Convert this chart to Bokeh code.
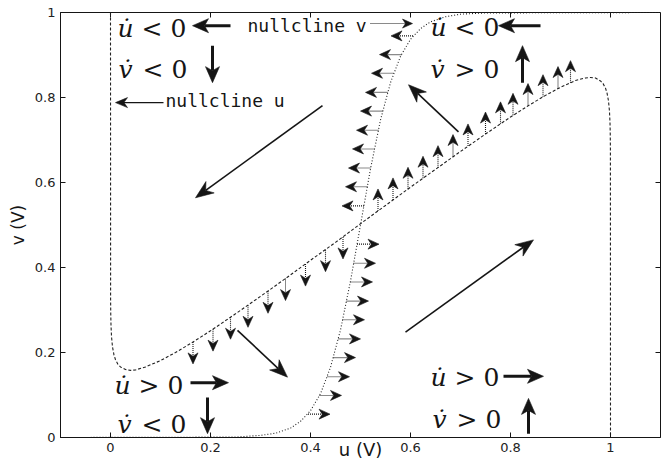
import numpy as np
from bokeh.plotting import figure
from bokeh.models import Range1d, FixedTicker, Label
from bokeh.embed import file_html
from bokeh.resources import INLINE

# ---- axis ticks ----
x_ticks = [0, 0.2, 0.4, 0.6, 0.8, 1]
x_tick_labels = ["0", "0.2", "0.4", "0.6", "0.8", "1"]
y_ticks = [0, 0.2, 0.4, 0.6, 0.8, 1]
y_tick_labels = ["0", "0.2", "0.4", "0.6", "0.8", "1"]

# ---- nullcline of u (N-shaped, dashed) ----
ncu_u = [0.0, 0.0002, 0.0005, 0.001, 0.002, 0.004, 0.007, 0.01, 0.015, 0.02,
         0.03, 0.04, 0.05, 0.07, 0.1, 0.13, 0.16, 0.2, 0.25, 0.3,
         0.35, 0.4, 0.45, 0.5, 0.55, 0.6, 0.65, 0.7, 0.75, 0.8,
         0.84, 0.87, 0.9, 0.93, 0.95, 0.96, 0.97, 0.98, 0.985, 0.99,
         0.993, 0.996, 0.998, 0.999, 0.9995, 0.9998, 1.0]
ncu_v = [1.0, 0.326, 0.291, 0.264, 0.238, 0.213, 0.194, 0.183, 0.172, 0.166,
         0.160, 0.158, 0.159, 0.166, 0.181, 0.200, 0.221, 0.251, 0.291, 0.332,
         0.374, 0.417, 0.459, 0.503, 0.546, 0.589, 0.631, 0.673, 0.714, 0.754,
         0.784, 0.805, 0.824, 0.840, 0.846, 0.847, 0.846, 0.839, 0.833, 0.822,
         0.811, 0.792, 0.767, 0.741, 0.714, 0.679, 0.0]

# ---- nullcline of v (sigmoid, dotted) ----
ncv_u = [-0.1, 0.25, 0.3, 0.33, 0.36, 0.38, 0.4, 0.42, 0.44, 0.46, 0.48, 0.5,
         0.52, 0.54, 0.56, 0.58, 0.6, 0.62, 0.64, 0.67, 0.7, 0.75, 1.1]
ncv_v = [0.0, 0.001, 0.005, 0.010, 0.022, 0.038, 0.063, 0.103, 0.165, 0.253, 0.368, 0.5,
         0.632, 0.747, 0.835, 0.897, 0.937, 0.962, 0.978, 0.990, 0.996, 0.999, 1.0]

# ---- direction markers sitting on the nullclines ----
left_u = [0.507, 0.514, 0.520, 0.528, 0.536, 0.544, 0.554, 0.566, 0.582, 0.605]
left_v = [0.545, 0.590, 0.634, 0.679, 0.723, 0.768, 0.812, 0.857, 0.901, 0.945]
right_u = [0.493, 0.486, 0.480, 0.472, 0.464, 0.456, 0.446, 0.434, 0.418, 0.395]
right_v = [0.455, 0.410, 0.366, 0.321, 0.277, 0.232, 0.188, 0.143, 0.099, 0.055]
down_u = [0.165, 0.205, 0.24, 0.275, 0.315, 0.35, 0.39, 0.43, 0.465]
down_v = [0.225, 0.255, 0.283, 0.311, 0.344, 0.374, 0.408, 0.442, 0.472]
up_u = [0.535, 0.565, 0.595, 0.625, 0.655, 0.685, 0.715, 0.75, 0.78, 0.805,
        0.835, 0.865, 0.895, 0.92]
up_v = [0.533, 0.559, 0.584, 0.610, 0.635, 0.661, 0.686, 0.714, 0.738, 0.758,
        0.781, 0.802, 0.821, 0.835]

# ---- flow direction in each region ----
flow_tail_u = [0.424, 0.696, 0.254, 0.59]
flow_tail_v = [0.781, 0.719, 0.252, 0.248]
flow_tip_u = [0.17, 0.596, 0.354, 0.846]
flow_tip_v = [0.564, 0.830, 0.142, 0.465]

# ---- layout ----
W, H = 665, 465
BL, BR, BT, BB = 60, 5, 12, 28
XR = (-0.1, 1.1)
YR = (0.0, 1.0)
PX_U = (W - BL - BR) / (XR[1] - XR[0])
PX_V = (H - BT - BB) / (YR[1] - YR[0])
INK = "#151515"
TICK = 5  # px, ticks point into the frame

p = figure(width=W, height=H, x_range=Range1d(*XR), y_range=Range1d(*YR),
           output_backend="svg", toolbar_location=None,
           min_border_left=BL, min_border_right=BR,
           min_border_top=BT, min_border_bottom=BB)
p.grid.visible = False
p.outline_line_color = INK
p.outline_line_width = 1
p.background_fill_color = "white"
p.border_fill_color = "white"

for ax, ticks, labels in ((p.xaxis[0], x_ticks, x_tick_labels),
                          (p.yaxis[0], y_ticks, y_tick_labels)):
    ax.ticker = FixedTicker(ticks=ticks)
    ax.major_label_overrides = {t: l for t, l in zip(ticks, labels)}
    ax.major_tick_in = TICK
    ax.major_tick_out = 0
    ax.minor_tick_line_color = None
    ax.axis_line_color = INK
    ax.major_tick_line_color = INK
    ax.major_label_text_font = "DejaVu Sans"
    ax.major_label_text_color = "#222222"
    ax.major_label_text_font_size = "13px"
    ax.major_label_standoff = 5
    ax.axis_label_text_font = "DejaVu Sans"
    ax.axis_label_text_font_style = "normal"
    ax.axis_label_text_color = INK

p.xaxis[0].axis_label = "u (V)"
p.xaxis[0].axis_label_text_font_size = "18px"
p.xaxis[0].axis_label_standoff = -16
p.yaxis[0].axis_label = "v (V)"
p.yaxis[0].axis_label_text_font_size = "17px"
p.yaxis[0].axis_label_standoff = 4

# mirrored ticks on the top and right edges of the box
p.segment(x_ticks, [YR[1]] * len(x_ticks), x_ticks,
          [YR[1] - TICK / PX_V] * len(x_ticks), line_color=INK, line_width=1)
p.segment([XR[1]] * len(y_ticks), y_ticks, [XR[1] - TICK / PX_U] * len(y_ticks),
          y_ticks, line_color=INK, line_width=1)

# nullclines
p.line(ncu_u, ncu_v, line_color="#222222", line_width=1.1, line_dash="3 2")
p.line(ncv_u, ncv_v, line_color="#222222", line_width=1.1, line_dash="1 2")


def arrow_parts(tail, tip, head_len, head_w, notch):
    """Shaft end point and a notched arrowhead polygon, sized in pixels."""
    dx = (tip[0] - tail[0]) * PX_U
    dy = (tip[1] - tail[1]) * PX_V
    n = np.hypot(dx, dy)
    ux, uy = dx / n, dy / n
    qx, qy = -uy, ux

    def to_data(sx, sy):
        return tip[0] + sx / PX_U, tip[1] + sy / PX_V

    pts = [(0.0, 0.0),
           (-head_len * ux + head_w / 2 * qx, -head_len * uy + head_w / 2 * qy),
           (-head_len * (1 - notch) * ux, -head_len * (1 - notch) * uy),
           (-head_len * ux - head_w / 2 * qx, -head_len * uy - head_w / 2 * qy)]
    xs, ys = zip(*[to_data(*q) for q in pts])
    end = to_data(-head_len * (1 - notch) * ux, -head_len * (1 - notch) * uy)
    return end, list(xs), list(ys)


def draw_arrows(tails, tips, head_len, head_w, notch, shaft_w, dash):
    x0, y0, x1, y1, hx, hy = [], [], [], [], [], []
    for t, h in zip(tails, tips):
        end, xs, ys = arrow_parts(t, h, head_len, head_w, notch)
        x0.append(t[0]); y0.append(t[1]); x1.append(end[0]); y1.append(end[1])
        hx.append(xs); hy.append(ys)
    p.segment(x0, y0, x1, y1, line_color=INK, line_width=shaft_w, line_dash=dash)
    p.patches(hx, hy, fill_color=INK, line_color=INK, line_width=0.6)


# small markers along nullclines (22 px long)
SL_U, SL_V = 22 / PX_U, 22 / PX_V
tails, tips = [], []
for u, v in zip(left_u, left_v):
    tails.append((u, v)); tips.append((u - SL_U, v))
for u, v in zip(right_u, right_v):
    tails.append((u, v)); tips.append((u + SL_U, v))
for u, v in zip(down_u, down_v):
    tails.append((u, v)); tips.append((u, v - SL_V))
for u, v in zip(up_u, up_v):
    tails.append((u, v)); tips.append((u, v + SL_V))
draw_arrows(tails, tips, 11, 10, 0.3, 1.1, "1 1")

# region flow arrows
draw_arrows(list(zip(flow_tail_u, flow_tail_v)), list(zip(flow_tip_u, flow_tip_v)),
            18, 14, 0.3, 1.6, "solid")

# derivative-sign arrows next to the labels
sign_tails = [(0.24, 0.969), (0.204, 0.922), (0.86, 0.969), (0.824, 0.835),
              (0.16, 0.129), (0.194, 0.094), (0.786, 0.144), (0.836, 0.009)]
sign_tips = [(0.164, 0.969), (0.204, 0.835), (0.776, 0.969), (0.824, 0.922),
             (0.236, 0.129), (0.194, 0.009), (0.866, 0.144), (0.836, 0.092)]
draw_arrows(sign_tails, sign_tips, 16, 14, 0.25, 3, "solid")

# pointers to the nullclines
draw_arrows([(0.52, 0.974)], [(0.604, 0.974)], 10, 9, 0.3, 1.1, "1 1")
draw_arrows([(0.106, 0.788)], [(0.01, 0.788)], 12, 10, 0.3, 1.1, "solid")

# sign labels: italic dotted variable + upright relation
SERIF = "DejaVu Serif"
LIFT = 8 / PX_V
sign_labels = [
    ("u\u0307", "< 0", 0.014, 0.944), ("v\u0307", "< 0", 0.016, 0.847),
    ("u\u0307", "< 0", 0.640, 0.946), ("v\u0307", "> 0", 0.640, 0.847),
    ("u\u0307", "> 0", 0.008, 0.104), ("v\u0307", "< 0", 0.014, 0.012),
    ("u\u0307", "> 0", 0.640, 0.122), ("v\u0307", "> 0", 0.644, 0.024),
]
for var, rel, x, y in sign_labels:
    p.add_layout(Label(x=x, y=y + LIFT, text=var, text_font=SERIF, text_font_size="25px",
                       text_font_style="italic", text_color=INK,
                       text_baseline="alphabetic"))
    p.add_layout(Label(x=x + 0.048, y=y + LIFT, text=rel, text_font=SERIF,
                       text_font_size="25px", text_color=INK,
                       text_baseline="alphabetic"))

MONO = "DejaVu Sans Mono"
p.add_layout(Label(x=0.274, y=0.951 + LIFT, text="nullcline v", text_font=MONO,
                   text_font_size="18px", text_color=INK, text_baseline="alphabetic"))
p.add_layout(Label(x=0.11, y=0.774 + LIFT, text="nullcline u", text_font=MONO,
                   text_font_size="18px", text_color=INK, text_baseline="alphabetic"))

open("out.html", "w").write(file_html(p, INLINE))
